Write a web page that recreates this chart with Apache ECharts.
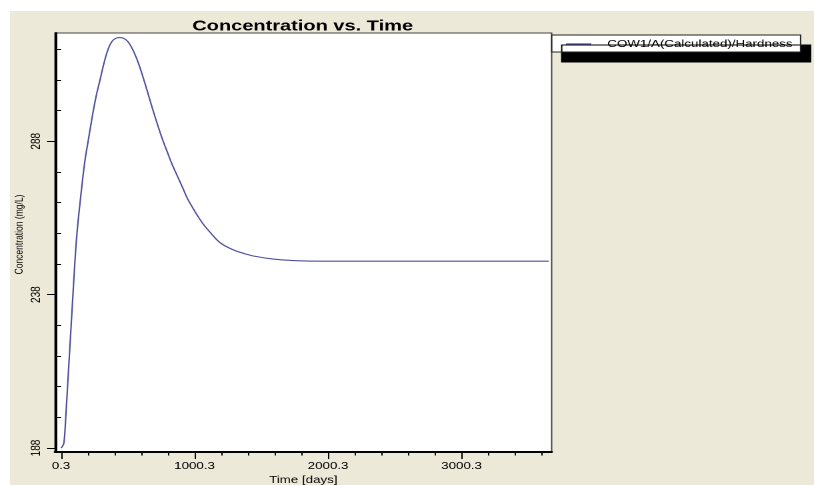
<!DOCTYPE html>
<html>
<head>
<meta charset="utf-8">
<script src="https://cdn.jsdelivr.net/npm/echarts@6/dist/echarts.min.js"></script>
<style>
html,body{margin:0;padding:0;background:#fff;overflow:hidden;}
#wrap{width:814px;height:485px;position:relative;overflow:hidden;}
#chart{width:610.5px;height:485px;transform:scaleX(1.33333);transform-origin:0 0;position:absolute;left:0;top:0;}
</style>
</head>
<body>
<div id="wrap"><div id="chart"></div></div>
<script>
// Data
const timeDays = [0.3, 11.6, 22.8, 37.8, 52.8, 67.8, 82.8, 97.8, 112.8, 127.8, 142.8, 157.8, 180.3, 202.8, 232.8, 262.8, 292.8, 322.8, 352.8, 382.8, 412.8, 442.8, 472.8, 502.8, 540.3, 577.8, 607.8, 645.3, 682.8, 720.3, 757.8, 795.3, 832.8, 870.3, 907.8, 945.3, 982.8, 1020.3, 1065.3, 1117.8, 1192.8, 1290.3, 1380.3, 1440.3, 1590.3, 1740.3, 1942.8, 2500.3, 3000.3, 3652.8];
const hardness = [188.0, 188.6, 189.9, 199.7, 210.8, 221.9, 233.0, 244.1, 254.3, 261.8, 268.0, 274.0, 282.0, 287.9, 295.7, 302.6, 308.1, 313.6, 318.0, 320.6, 321.6, 321.8, 321.5, 320.4, 317.6, 313.7, 309.8, 304.5, 299.0, 293.8, 288.9, 284.6, 280.4, 276.8, 273.2, 269.5, 266.6, 263.9, 261.0, 258.3, 254.9, 252.6, 251.3, 250.6, 249.6, 249.1, 248.9, 248.9, 248.9, 248.9];
const xMajorTicks = [0.3, 1000.3, 2000.3, 3000.3];
const xMinorTicks = [200.3, 400.3, 600.3, 800.3, 1200.3, 1400.3, 1600.3, 1800.3, 2200.3, 2400.3, 2600.3, 2800.3, 3200.3, 3400.3, 3600.3];
const yMajorTicks = [188, 238, 288];
const yMinorTicks = [198, 208, 218, 228, 248, 258, 268, 278, 298, 308, 318];
const seriesName = 'COW1/A(Calculated)/Hardness';
const titleText = 'Concentration vs. Time';
const xName = 'Time [days]';
const yName = 'Concentration (mg/L)';

const points = timeDays.map((t, i) => [t, hardness[i]]);
const xMin = -45, xMax = 3675, yMin = 186.7, yMax = 323.3;
const font = 'Arial, "Liberation Sans", sans-serif';

const chart = echarts.init(document.getElementById('chart'), null, {devicePixelRatio: 2});
chart.setOption({
  animation: false,
  backgroundColor: '#ffffff',
  graphic: [{
    type: 'rect', z: -10, silent: true,
    shape: {x: 7.5, y: 11, width: 700, height: 500},
    style: {fill: '#ECE9D8'}
  }],
  title: {
    text: titleText, left: 222, top: 14, textAlign: 'center',
    textStyle: {fontFamily: font, fontSize: 15, fontWeight: 'bold', color: '#000'}
  },
  legend: {
    left: 413.8, top: 35,
    padding: [3, 6, 2, 10.7],
    backgroundColor: '#fff', borderColor: '#222', borderWidth: 1,
    shadowColor: '#000', shadowBlur: 0, shadowOffsetX: 7.5, shadowOffsetY: 10,
    itemWidth: 19, itemHeight: 1.2,
    data: [{name: seriesName, icon: 'rect'}],
    textStyle: {fontFamily: font, fontSize: 10, color: '#000', padding: [0, 0, 0, 7], lineHeight: 12}
  },
  grid: {
    left: 41.25, right: 197.25, top: 33, bottom: 33,
    outerBoundsMode: 'none',
    show: true, backgroundColor: '#fff', borderColor: '#444', borderWidth: 1
  },
  xAxis: [{
    type: 'value', min: xMin, max: xMax,
    name: xName, nameLocation: 'middle', nameGap: 23, nameMoveOverlap: false,
    nameTextStyle: {fontFamily: font, fontSize: 10, color: '#000'},
    axisLine: {show: true, onZero: false, lineStyle: {color: '#000', width: 2}},
    axisTick: {show: true, customValues: xMajorTicks, length: 7, lineStyle: {color: '#000', width: 1}},
    axisLabel: {customValues: xMajorTicks, margin: 9, fontFamily: font, fontSize: 10, color: '#000', formatter: v => v.toFixed(1)},
    splitLine: {show: false}
  }, {
    type: 'value', min: xMin, max: xMax, position: 'bottom',
    axisLine: {show: false},
    axisTick: {show: true, customValues: xMinorTicks, length: 3.5, lineStyle: {color: '#000', width: 1}},
    axisLabel: {show: false},
    splitLine: {show: false}
  }],
  yAxis: [{
    type: 'value', min: yMin, max: yMax,
    name: yName, nameLocation: 'middle', nameGap: 22, nameMoveOverlap: false,
    nameTextStyle: {fontFamily: font, fontSize: 8.5, color: '#000', padding: [0, 0, 0, 16]},
    axisLine: {show: true, onZero: false, lineStyle: {color: '#000', width: 2}},
    axisTick: {show: true, customValues: yMajorTicks, length: 6, lineStyle: {color: '#000', width: 1}},
    axisLabel: {customValues: yMajorTicks, rotate: 90, margin: 9, fontFamily: font, fontSize: 10, color: '#000'},
    splitLine: {show: false}
  }, {
    type: 'value', min: yMin, max: yMax, position: 'left',
    axisLine: {show: false},
    axisTick: {show: true, customValues: yMinorTicks, length: 3.75, lineStyle: {color: '#000', width: 1}},
    axisLabel: {show: false},
    splitLine: {show: false}
  }],
  series: [{
    name: seriesName, type: 'line', xAxisIndex: 0, yAxisIndex: 0,
    data: points, showSymbol: false, smooth: 0.4,
    lineStyle: {color: '#4F4F9C', width: 1.1},
    itemStyle: {color: '#4F4F9C'}
  }]
});
</script>
</body>
</html>
